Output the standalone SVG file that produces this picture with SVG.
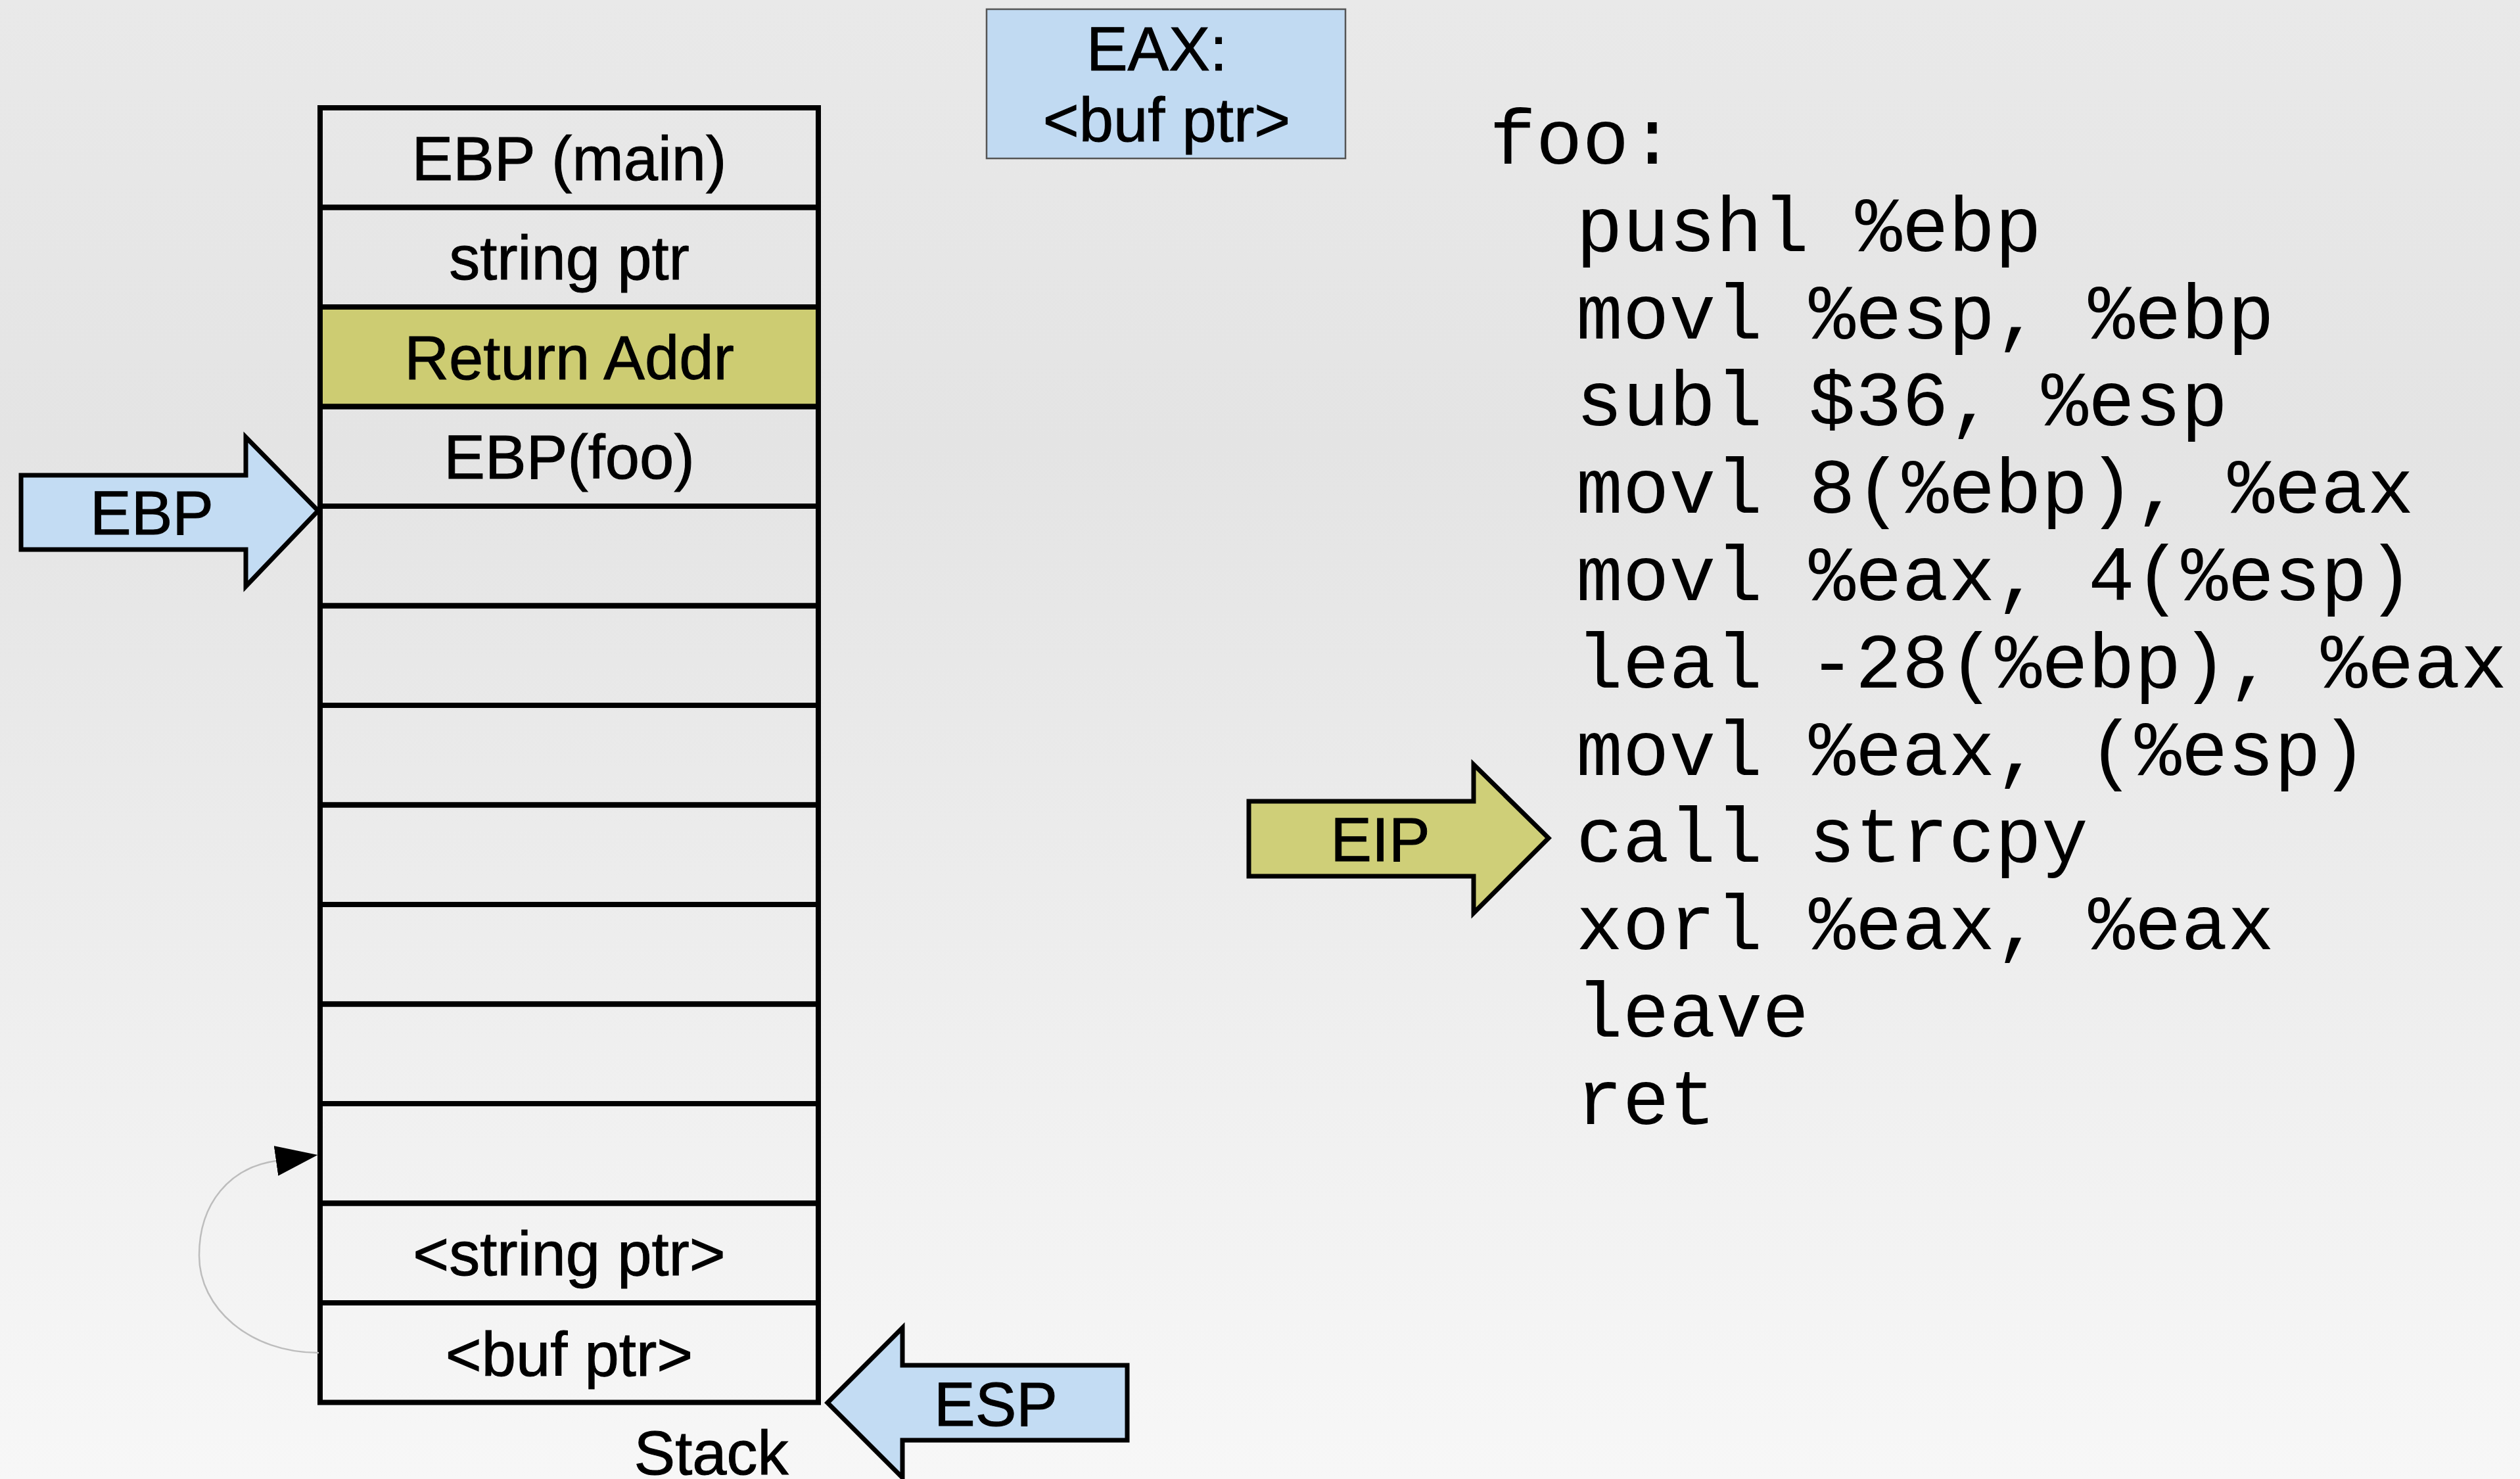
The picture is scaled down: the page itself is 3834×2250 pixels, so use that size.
<svg xmlns="http://www.w3.org/2000/svg" width="3834" height="2250" viewBox="0 0 3834 2250">
  <defs>
    <linearGradient id="bg" x1="0" y1="0" x2="0" y2="1">
      <stop offset="0" stop-color="#e9e9e9"/>
      <stop offset="0.3" stop-color="#e4e4e4"/>
      <stop offset="1" stop-color="#f7f7f7"/>
    </linearGradient>
    <marker id="head" viewBox="0 0 64 46" refX="0" refY="23" markerWidth="64" markerHeight="46" markerUnits="userSpaceOnUse" orient="auto">
      <path d="M0,0 L64,23 L0,46 z" fill="#000"/>
    </marker>
    <style>
      .cell { fill: none; stroke: #000; stroke-width: 8; }
      .ret { fill: #cdcc72; stroke: #000; stroke-width: 8; }
      .lbl { font-family: "Liberation Sans", Arial, sans-serif; font-size: 94px; fill: #000; stroke: #000; stroke-width: 1; text-anchor: middle; }
      .code { font-family: "Liberation Mono", "Courier New", monospace; font-size: 118px; fill: #000; white-space: pre; }
      .blue { fill: #c3dcf3; stroke: #000; stroke-width: 7; stroke-linejoin: miter; }
      .olive { fill: #cfcf78; stroke: #000; stroke-width: 7; stroke-linejoin: miter; }
      .conn { fill: none; stroke: #bdbdbd; stroke-width: 2.5; }
    </style>
  </defs>
  <rect x="0" y="0" width="3834" height="2250" fill="url(#bg)"/>

  <g id="stack">
    <g id="cell-ebp-main"><rect class="cell" x="487" y="164" width="758" height="151.5"/><text class="lbl" x="866" y="274">EBP (main)</text></g>
    <g id="cell-string-ptr"><rect class="cell" x="487" y="315.5" width="758" height="151.5"/><text class="lbl" x="866" y="425">string ptr</text></g>
    <g id="cell-return-addr"><rect class="ret" x="487" y="467" width="758" height="151.5"/><text class="lbl" x="866" y="577">Return Addr</text></g>
    <g id="cell-ebp-foo"><rect class="cell" x="487" y="618.5" width="758" height="151.5"/><text class="lbl" x="866" y="728">EBP(foo)</text></g>
    <g id="cell-4"><rect class="cell" x="487" y="770" width="758" height="151.5"/></g>
    <g id="cell-5"><rect class="cell" x="487" y="921.5" width="758" height="151.5"/></g>
    <g id="cell-6"><rect class="cell" x="487" y="1073" width="758" height="151.5"/></g>
    <g id="cell-7"><rect class="cell" x="487" y="1224.5" width="758" height="151.5"/></g>
    <g id="cell-8"><rect class="cell" x="487" y="1376" width="758" height="151.5"/></g>
    <g id="cell-9"><rect class="cell" x="487" y="1527.5" width="758" height="151.5"/></g>
    <g id="cell-10"><rect class="cell" x="487" y="1679" width="758" height="151.5"/></g>
    <g id="cell-string-ptr-arg"><rect class="cell" x="487" y="1830.5" width="758" height="151.5"/><text class="lbl" x="866" y="1940">&lt;string ptr&gt;</text></g>
    <g id="cell-buf-ptr-arg"><rect class="cell" x="487" y="1982" width="758" height="151.5"/><text class="lbl" x="866" y="2093">&lt;buf ptr&gt;</text></g>
    <text class="lbl" x="1082" y="2243">Stack</text>
  </g>

  <g id="ebp-arrow">
    <polygon class="blue" points="32,723 374,723 374,665 484,777 374,892 374,836 32,836"/>
    <text class="lbl" x="231" y="813">EBP</text>
  </g>

  <g id="esp-arrow">
    <polygon class="blue" points="1259,2134 1373,2020 1373,2077 1715,2077 1715,2191 1373,2191 1373,2248"/>
    <text class="lbl" x="1515" y="2169">ESP</text>
  </g>

  <g id="eip-arrow">
    <polygon class="olive" points="1900,1219 2242,1219 2242,1163 2356,1275 2242,1389 2242,1333 1900,1333"/>
    <text class="lbl" x="2100" y="1310">EIP</text>
  </g>

  <g id="eax-box">
    <rect x="1501" y="14" width="546" height="227" fill="#c1daf2" stroke="#555" stroke-width="2.5"/>
    <text class="lbl" x="1760" y="107">EAX:</text>
    <text class="lbl" x="1775" y="215">&lt;buf ptr&gt;</text>
  </g>

  <g id="code">
    <text class="code" x="2266" y="249">foo:</text>
    <text class="code" x="2398" y="382">pushl %ebp</text>
    <text class="code" x="2398" y="515">movl %esp, %ebp</text>
    <text class="code" x="2398" y="647">subl $36, %esp</text>
    <text class="code" x="2398" y="780">movl 8(%ebp), %eax</text>
    <text class="code" x="2398" y="913">movl %eax, 4(%esp)</text>
    <text class="code" x="2398" y="1046">leal -28(%ebp), %eax</text>
    <text class="code" x="2398" y="1179">movl %eax, (%esp)</text>
    <text class="code" x="2398" y="1311">call strcpy</text>
    <text class="code" x="2398" y="1444">xorl %eax, %eax</text>
    <text class="code" x="2398" y="1577">leave</text>
    <text class="code" x="2398" y="1710">ret</text>
  </g>

  <g id="connectors">
    <path class="conn" d="M485,2058 C380,2058 303,1990 303,1910 C303,1830 350,1776 420,1766" marker-end="url(#head)"/>
  </g>
</svg>
